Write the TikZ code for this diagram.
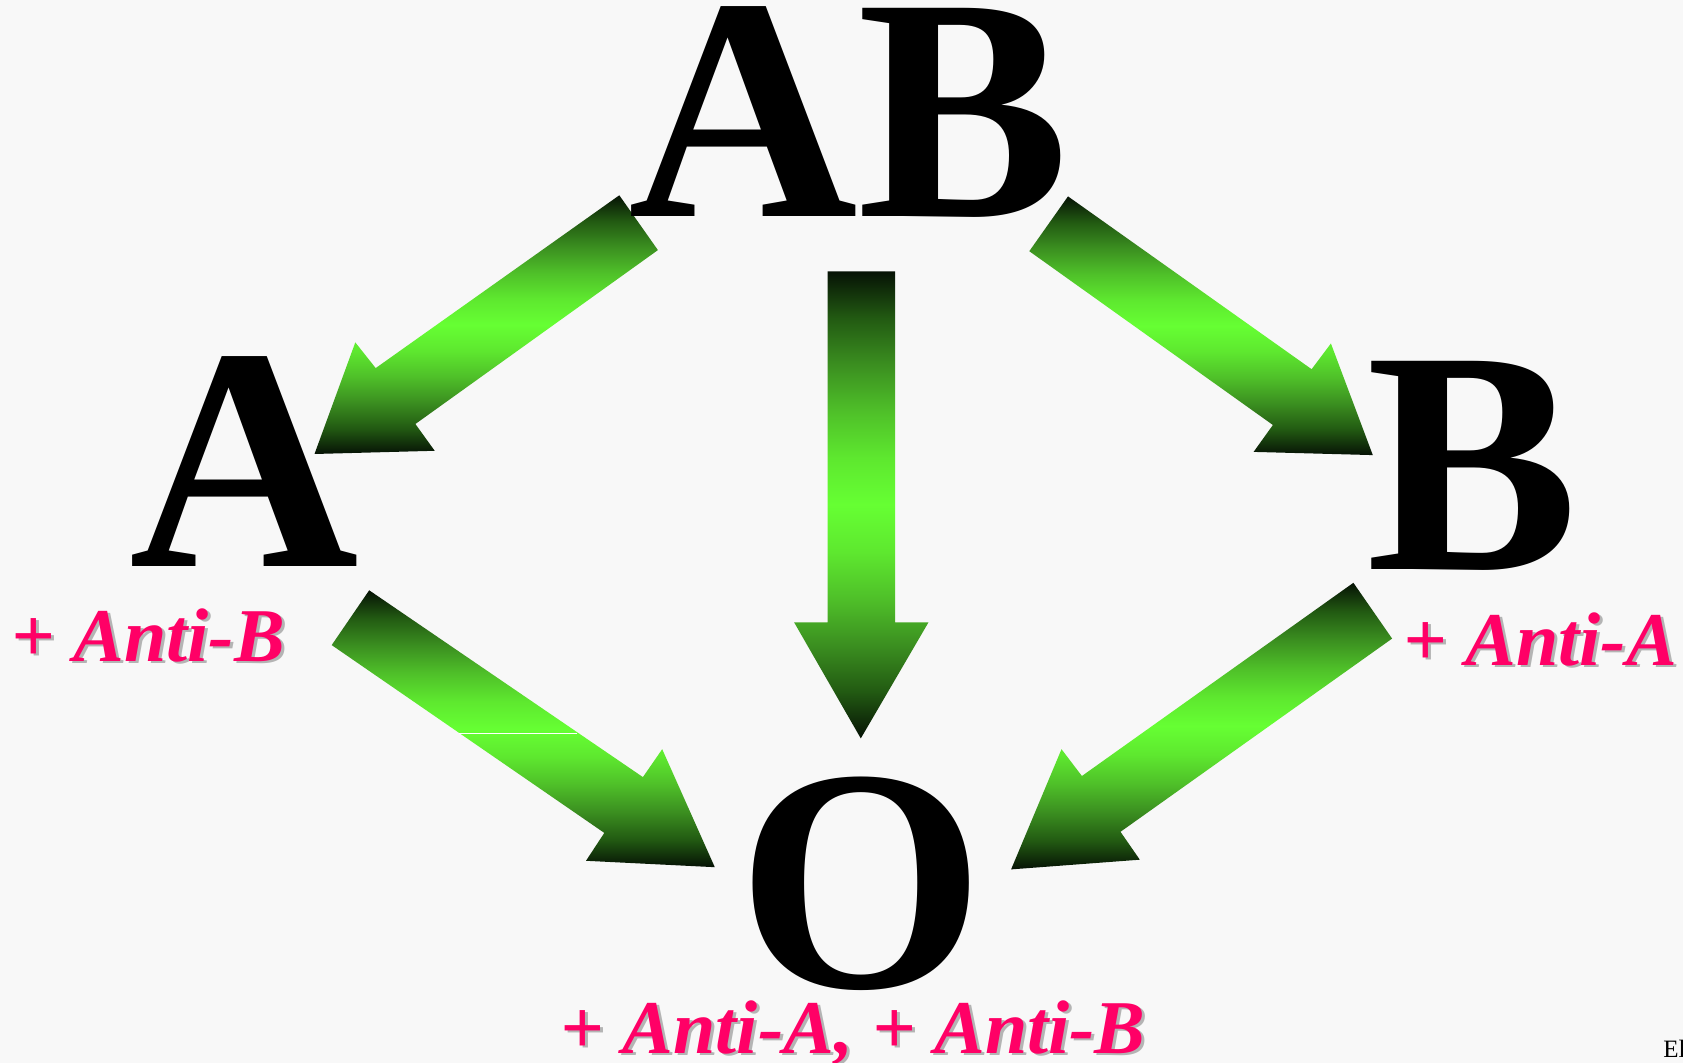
\documentclass[tikz,border=0pt]{standalone}
\usepackage{fontspec}
\setmainfont{Liberation Serif}
\definecolor{bg}{HTML}{F8F8F8}
\definecolor{gdz}{HTML}{061205}
\definecolor{gda}{HTML}{225A12}
\definecolor{gdb}{HTML}{3B8F20}
\definecolor{gdc}{HTML}{4FC029}
\definecolor{gdd}{HTML}{5EE82F}
\definecolor{gde}{HTML}{66FF33}
\definecolor{pinklab}{HTML}{FF0066}
\definecolor{shadowgray}{HTML}{B4B4B4}
\pgfdeclareverticalshading{greengrad}{100bp}{color(0bp)=(gdz); color(25bp)=(gdz);
  color(30bp)=(gda); color(35bp)=(gdb); color(40bp)=(gdc); color(45bp)=(gdd);
  color(50bp)=(gde); color(55bp)=(gdd); color(60bp)=(gdc); color(65bp)=(gdb);
  color(70bp)=(gda); color(75bp)=(gdz); color(100bp)=(gdz)}
\begin{document}
\begin{tikzpicture}[x=0.5pt,y=-0.5pt,
  bigletter/.style={inner sep=0pt, anchor=base, font=\fontsize{159}{159}\selectfont\bfseries},
  labeltext/.style={inner sep=0pt, anchor=base, font=\fontsize{38}{38}\selectfont\bfseries\itshape, text=pinklab},
  labelshadow/.style={labeltext, text=shadowgray},
  greenarrow/.style={draw=none, shading=greengrad}]
\useasboundingbox (0,0) rectangle (1683,1063);
\fill[bg] (0,0) rectangle (1683,1063);

% arrows
\path[greenarrow] (619.3,195.3) -- (375.7,368.1) -- (355.3,342.4) -- (314.5,454.0)
  -- (434.7,450.8) -- (415.4,424.0) -- (657.9,250.1) -- cycle;
\path[greenarrow] (1068.0,196.4) -- (1311.6,369.2) -- (1330.9,343.5) -- (1372.8,455.1)
  -- (1253.6,451.9) -- (1272.9,425.0) -- (1029.3,251.2) -- cycle;
\path[greenarrow] (827.5,271.5) -- (895.1,271.5) -- (895.1,622.5) -- (928.4,622.5)
  -- (860.8,738.4) -- (794.2,622.5) -- (827.5,622.5) -- cycle;
\path[greenarrow] (369.2,590.3) -- (642.9,777.1) -- (662.2,749.2) -- (714.8,867.2)
  -- (586.0,860.8) -- (604.3,832.9) -- (331.7,645.1) -- cycle;
\draw[white, line width=0.6pt] (459,733.2) -- (577,733.2);
\path[greenarrow] (1353.4,582.8) -- (1392.1,638.6) -- (1120.5,831.8) -- (1139.8,859.7)
  -- (1011.1,869.4) -- (1061.5,749.2) -- (1081.9,776.0) -- cycle;

% big letters
\node[bigletter] (AB) at (849,217) {AB};
\node[bigletter] (A) at (244,567) {A};
\node[bigletter] (B) at (1473,570) {B};
\node[bigletter] (O) at (861,987) {O};

% labels
\node[labelshadow] (antiBs) at (151,664) {+ Anti-B};
\node[labeltext] (antiB) at (148,662) {+ Anti-B};
\node[labelshadow] (antiAs) at (1543,668) {+ Anti-A};
\node[labeltext] (antiA) at (1540,666) {+ Anti-A};
\node[labelshadow] (antiABs) at (856,1055) {+ Anti-A, + Anti-B};
\node[labeltext] (antiAB) at (853,1053) {+ Anti-A, + Anti-B};

\node[inner sep=0pt, anchor=base west, font=\fontsize{12.5}{12.5}\selectfont] (el) at (1663,1058) {El};
\end{tikzpicture}
\end{document}
